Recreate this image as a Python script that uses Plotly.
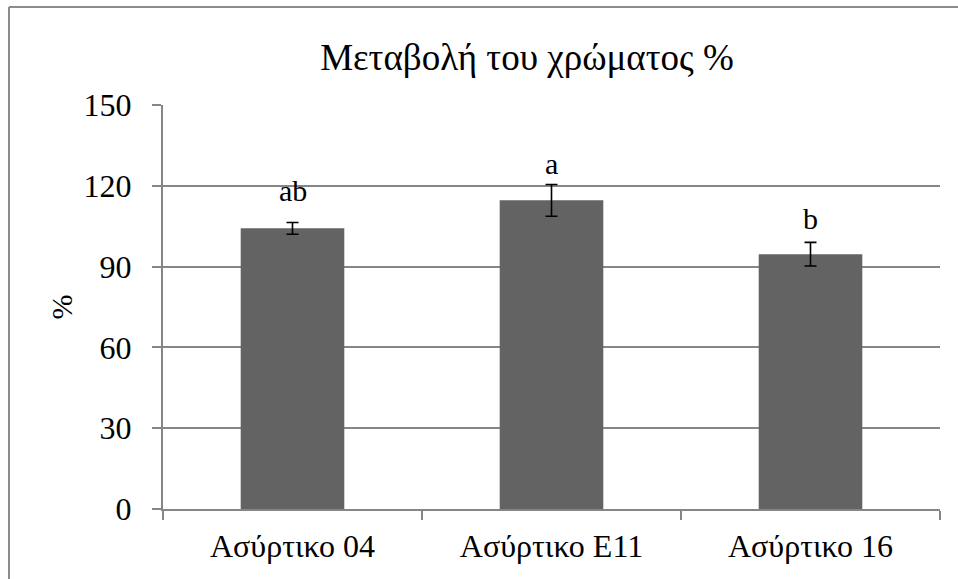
import plotly.graph_objects as go

# Colour change per cultivar (%), with error and significance letters
categories = ["Ασύρτικο 04", "Ασύρτικο Ε11", "Ασύρτικο 16"]
values = [104.2, 114.6, 94.6]
errors = [2.2, 5.9, 4.4]
letters = ["ab", "a", "b"]
y_ticks = [0, 30, 60, 90, 120, 150]

FONT = "Liberation Serif, serif"
GRID = "#868686"

fig = go.Figure()
fig.add_trace(go.Bar(
    x=categories,
    y=values,
    marker=dict(color="#636363", line=dict(width=0)),
    error_y=dict(type="data", array=errors, visible=True,
                 color="black", thickness=1.6, width=6),
    width=0.4,
    showlegend=False,
    hoverinfo="skip",
))

# Significance letters above each error bar (pixel offsets above the bar cap)
letter_shift = [32, 21, 24]
for c, v, e, t, s in zip(categories, values, errors, letters, letter_shift):
    fig.add_annotation(x=c, y=v + e, text=t, showarrow=False,
                       yanchor="middle", yshift=s,
                       font=dict(family=FONT, size=30, color="black"))

# Outer chart frame (left and top edges)
fig.add_shape(type="line", xref="paper", yref="paper",
              x0=(9 - 163) / 777, x1=(9 - 163) / 777,
              y0=-0.3, y1=(509 - 7) / 404,
              line=dict(color="#8c8c8c", width=2))
fig.add_shape(type="line", xref="paper", yref="paper",
              x0=(9 - 163) / 777, x1=1.1,
              y0=(509 - 7) / 404, y1=(509 - 7) / 404,
              line=dict(color="#8c8c8c", width=2))

fig.update_layout(
    width=958, height=579,
    margin=dict(l=163, r=18, t=105, b=70),
    paper_bgcolor="white", plot_bgcolor="white",
    font=dict(family=FONT, color="black"),
    title=dict(text="Μεταβολή του χρώματος %",
               x=527 / 958, xanchor="center",
               y=1 - 57 / 579, yanchor="middle",
               font=dict(family=FONT, size=37, color="black")),
    bargap=0.6,
)
fig.update_xaxes(
    type="category",
    showline=True, linecolor=GRID, linewidth=2,
    ticks="outside", tickson="boundaries", ticklen=9,
    tickcolor=GRID, tickwidth=2,
    ticklabelstandoff=8,
    tickfont=dict(family=FONT, size=32, color="black"),
    showgrid=False,
)
fig.update_yaxes(
    range=[0, 150], tickvals=y_ticks,
    showline=True, linecolor=GRID, linewidth=2,
    ticks="outside", ticklen=9, tickcolor=GRID, tickwidth=2,
    ticklabelstandoff=14,
    showgrid=True, gridcolor=GRID, gridwidth=1.5,
    zeroline=False,
    tickfont=dict(family=FONT, size=32, color="black"),
    title=dict(text="%", font=dict(family=FONT, size=30, color="black"),
               standoff=2),
)

fig.write_html("out.html")
